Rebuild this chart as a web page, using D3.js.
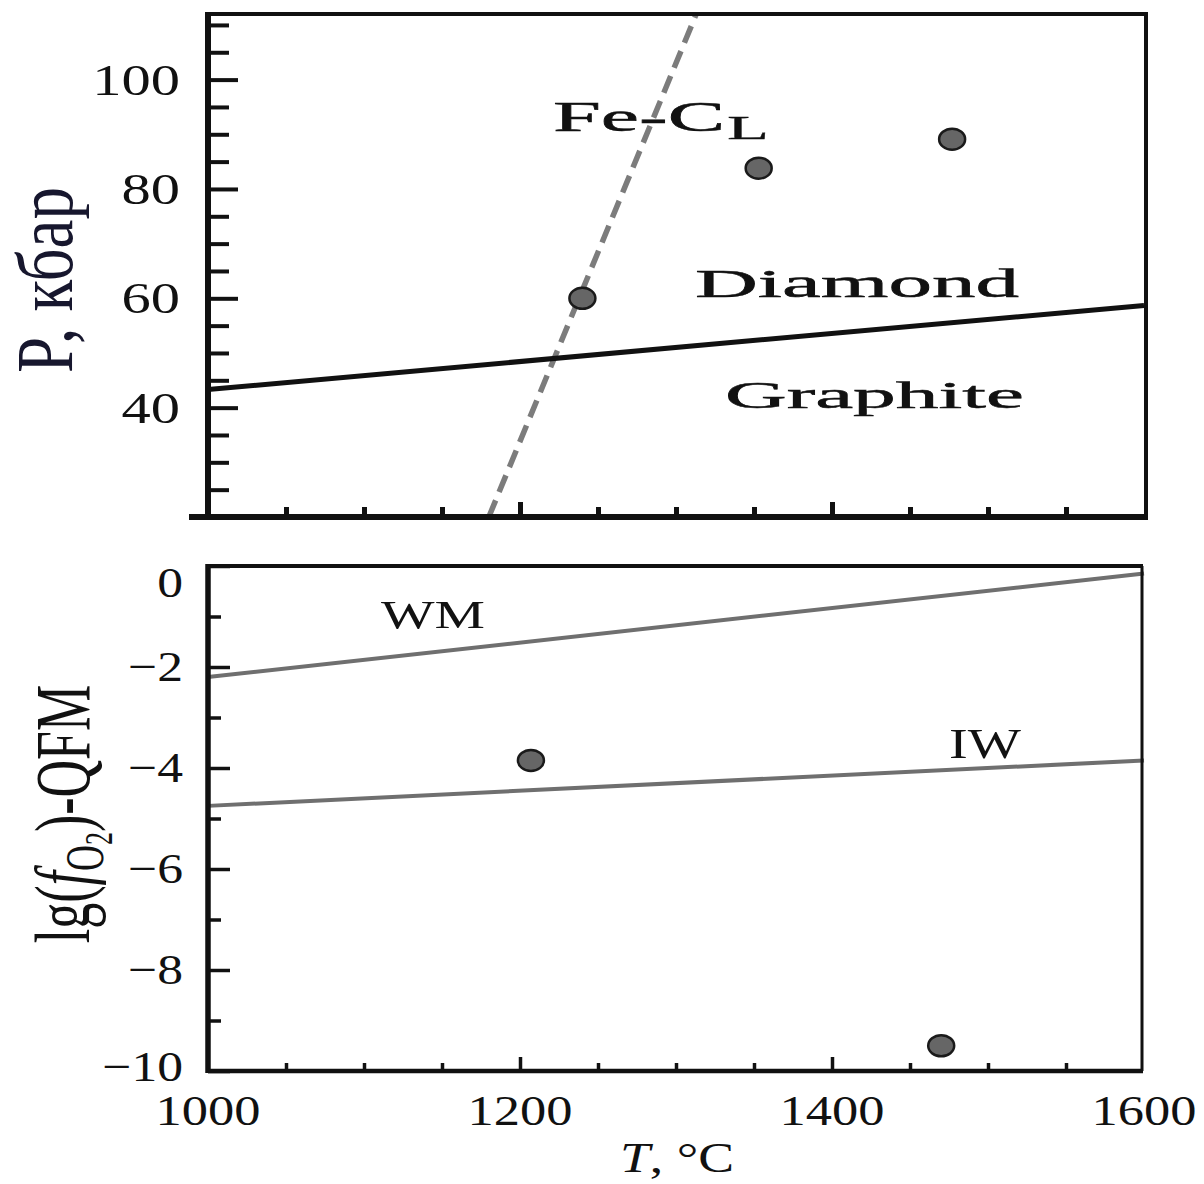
<!DOCTYPE html>
<html>
<head>
<meta charset="utf-8">
<script src="https://cdn.jsdelivr.net/npm/d3@7"></script>
<style>
  html, body { margin: 0; padding: 0; background: #fff; }
  svg { display: block; }
  text { font-family: "Liberation Serif", "Times New Roman", "DejaVu Serif", serif; fill: #111; }
</style>
</head>
<body>
<script>
// ---------------- data ----------------
const tempDomain = [1000, 1600];
const tempMajorTicks = [1000, 1200, 1400, 1600];
const tempMinorTicks = [1050, 1100, 1150, 1250, 1300, 1350, 1450, 1500, 1550];

const pressureDomain = [20, 112];
const pressureMajorTicks = [40, 60, 80, 100];
const pressureMinorTicks = [25, 30, 35, 45, 50, 55, 65, 70, 75, 85, 90, 95, 105, 110];

const fo2Domain = [-10, 0];
const fo2MajorTicks = [0, -2, -4, -6, -8, -10];
const fo2MinorTicks = [-1, -3, -5, -7, -9];

// graphite–diamond boundary
const gdT = [1000, 1600];
const gdP = [43.3, 58.7];
// Fe–C liquidus (dashed)
const feclT = [1180, 1313];
const feclP = [20, 112];
// experiments, P–T
const expT = [1240, 1353, 1477];
const expP = [60.0, 83.8, 89.1];

// buffers
const wmT = [1000, 1600];
const wmF = [-2.2, -0.15];
const iwT = [1000, 1600];
const iwF = [-4.75, -3.85];
// experiments, fO2–T
const expFT = [1207, 1470];
const expF = [-3.85, -9.5];

// ---------------- layout ----------------
const W = 1204, H = 1184;
const svg = d3.select("body").append("svg").attr("width", W).attr("height", H);
svg.append("rect").attr("width", W).attr("height", H).attr("fill", "#fff");

const x = d3.scaleLinear().domain(tempDomain).range([208, 1144]);
const yP = d3.scaleLinear().domain(pressureDomain).range([517, 14]);
const yF = d3.scaleLinear().domain(fo2Domain).range([1071, 566]);

const INK = "#111";
const GREY = "#6f6f6f";

function stext(g, px, py, str, o) {
  o = o || {};
  const t = g.append("text")
    .attr("transform", `translate(${px},${py}) scale(${o.sx || 1},1)` + (o.rot ? ` rotate(${o.rot})` : ""))
    .attr("text-anchor", o.anchor || "start")
    .style("font-size", (o.size || 40) + "px")
    .style("font-weight", o.weight || "normal")
    .style("font-style", o.style || "normal");
  if (o.fill) t.style("fill", o.fill);
  if (o.stroke) t.style("stroke", o.fill || INK).style("stroke-width", o.stroke);
  if (o.len) t.attr("textLength", o.len).attr("lengthAdjust", "spacingAndGlyphs");
  t.text(str);
  return t;
}

// ---------------- top panel ----------------
const gTop = svg.append("g");

const line = (xs, ys, ysc) => d3.line()(xs.map((v, i) => [x(v), ysc(ys[i])]));
gTop.append("path").attr("d", line(feclT, feclP, yP))
  .attr("stroke", "#7c7c7c").attr("stroke-width", 5.5).attr("fill", "none")
  .attr("stroke-dasharray", "18,9");
gTop.append("path").attr("d", line(gdT, gdP, yP))
  .attr("stroke", INK).attr("stroke-width", 5).attr("fill", "none");

gTop.append("g").attr("transform", `translate(${x(tempDomain[0])},0)`)
  .call(d3.axisLeft(yP).tickValues(pressureMajorTicks).tickSize(-30).tickFormat(""))
  .call(g => g.select(".domain").remove())
  .call(g => g.selectAll("line").attr("stroke", INK).attr("stroke-width", 4));
gTop.append("g").attr("transform", `translate(${x(tempDomain[0])},0)`)
  .call(d3.axisLeft(yP).tickValues(pressureMinorTicks).tickSize(-21).tickFormat(""))
  .call(g => g.select(".domain").remove())
  .call(g => g.selectAll("line").attr("stroke", INK).attr("stroke-width", 4));
gTop.append("g").attr("transform", `translate(0,${yP(pressureDomain[0])})`)
  .call(d3.axisBottom(x).tickValues(tempMajorTicks.slice(1, 3)).tickSize(-15).tickFormat(""))
  .call(g => g.select(".domain").remove())
  .call(g => g.selectAll("line").attr("stroke", INK).attr("stroke-width", 5));
gTop.append("g").attr("transform", `translate(0,${yP(pressureDomain[0])})`)
  .call(d3.axisBottom(x).tickValues(tempMinorTicks).tickSize(-10).tickFormat(""))
  .call(g => g.select(".domain").remove())
  .call(g => g.selectAll("line").attr("stroke", INK).attr("stroke-width", 5));

const tx0 = x(tempDomain[0]), tx1 = x(tempDomain[1]) + 2;
gTop.append("line").attr("x1", tx0).attr("x2", tx1 + 2).attr("y1", yP(pressureDomain[1])).attr("y2", yP(pressureDomain[1]))
  .attr("stroke", INK).attr("stroke-width", 4);
gTop.append("line").attr("x1", tx1).attr("x2", tx1).attr("y1", yP(pressureDomain[1])).attr("y2", yP(pressureDomain[0]))
  .attr("stroke", INK).attr("stroke-width", 4);
gTop.append("line").attr("x1", tx0).attr("x2", tx0).attr("y1", yP(pressureDomain[1]) - 2).attr("y2", yP(pressureDomain[0]))
  .attr("stroke", INK).attr("stroke-width", 6);
gTop.append("line").attr("x1", tx0 - 19).attr("x2", tx1 + 2).attr("y1", yP(pressureDomain[0])).attr("y2", yP(pressureDomain[0]))
  .attr("stroke", INK).attr("stroke-width", 6);

gTop.selectAll("ellipse.p").data(expT).join("ellipse")
  .attr("cx", d => x(d)).attr("cy", (d, i) => yP(expP[i]))
  .attr("rx", 13).attr("ry", 10.5)
  .attr("fill", "#666").attr("stroke", "#1a1a1a").attr("stroke-width", 2.5);

pressureMajorTicks.forEach(v => stext(gTop, 180, yP(v) + 15, String(v), { size: 45, sx: 1.3, anchor: "end" }));

stext(gTop, 553, 131, "Fe-C", { size: 42, len: 172, stroke: 0.5 });
stext(gTop, 727, 139, "L", { size: 34, len: 42, stroke: 0.3 });
stext(gTop, 695, 297, "Diamond", { size: 39, len: 324, stroke: 0.5 });
stext(gTop, 725, 408, "Graphite", { size: 38, len: 299, stroke: 0.5 });

stext(gTop, 72, 280, "P, кбар", { size: 58, sx: 1.38, rot: -90, anchor: "middle", fill: "#17172e", len: 186 });

// ---------------- bottom panel ----------------
const gBot = svg.append("g");

gBot.append("path").attr("d", line(wmT, wmF, yF))
  .attr("stroke", GREY).attr("stroke-width", 4).attr("fill", "none");
gBot.append("path").attr("d", line(iwT, iwF, yF))
  .attr("stroke", GREY).attr("stroke-width", 4).attr("fill", "none");

gBot.append("g").attr("transform", `translate(${x(tempDomain[0])},0)`)
  .call(d3.axisLeft(yF).tickValues(fo2MajorTicks).tickSize(-22).tickFormat(""))
  .call(g => g.select(".domain").remove())
  .call(g => g.selectAll("line").attr("stroke", INK).attr("stroke-width", 3.5));
gBot.append("g").attr("transform", `translate(${x(tempDomain[0])},0)`)
  .call(d3.axisLeft(yF).tickValues(fo2MinorTicks).tickSize(-13).tickFormat(""))
  .call(g => g.select(".domain").remove())
  .call(g => g.selectAll("line").attr("stroke", INK).attr("stroke-width", 3.5));
gBot.append("g").attr("transform", `translate(0,${yF(fo2Domain[0])})`)
  .call(d3.axisBottom(x).tickValues(tempMajorTicks.slice(1, 3)).tickSize(-14).tickFormat(""))
  .call(g => g.select(".domain").remove())
  .call(g => g.selectAll("line").attr("stroke", INK).attr("stroke-width", 3.5));
gBot.append("g").attr("transform", `translate(0,${yF(fo2Domain[0])})`)
  .call(d3.axisBottom(x).tickValues(tempMinorTicks).tickSize(-8).tickFormat(""))
  .call(g => g.select(".domain").remove())
  .call(g => g.selectAll("line").attr("stroke", INK).attr("stroke-width", 3.5));

const bx0 = x(tempDomain[0]), bx1 = x(tempDomain[1]) - 2;
gBot.append("line").attr("x1", bx0).attr("x2", bx1 + 1).attr("y1", yF(fo2Domain[1])).attr("y2", yF(fo2Domain[1]))
  .attr("stroke", INK).attr("stroke-width", 4);
gBot.append("line").attr("x1", bx1).attr("x2", bx1).attr("y1", yF(fo2Domain[1])).attr("y2", yF(fo2Domain[0]))
  .attr("stroke", INK).attr("stroke-width", 3);
gBot.append("line").attr("x1", bx0).attr("x2", bx0).attr("y1", yF(fo2Domain[1]) - 2).attr("y2", yF(fo2Domain[0]) + 2)
  .attr("stroke", INK).attr("stroke-width", 5.5);
gBot.append("line").attr("x1", bx0).attr("x2", bx1 + 1).attr("y1", yF(fo2Domain[0])).attr("y2", yF(fo2Domain[0]))
  .attr("stroke", INK).attr("stroke-width", 4.5);

gBot.selectAll("ellipse.q").data(expFT).join("ellipse")
  .attr("cx", d => x(d)).attr("cy", (d, i) => yF(expF[i]))
  .attr("rx", 13).attr("ry", 10.5)
  .attr("fill", "#666").attr("stroke", "#1a1a1a").attr("stroke-width", 2.5);

fo2MajorTicks.forEach(v => {
  const lbl = v === 0 ? "0" : "\u2212" + Math.abs(v);
  const dy = v === 0 ? 31 : (v === -10 ? 10 : 14);
  stext(gBot, 183, yF(v) + dy, lbl, { size: 43, sx: 1.2, anchor: "end" });
});
tempMajorTicks.forEach(v => stext(gBot, x(v), 1125, String(v), { size: 43, sx: 1.22, anchor: "middle" }));

stext(gBot, 381, 628, "WM", { size: 41, len: 104 });
stext(gBot, 949, 758, "IW", { size: 42, len: 72 });

const xt = stext(gBot, 677, 1172, "", { size: 42, sx: 1.28, anchor: "middle" });
xt.append("tspan").style("font-style", "italic").text("T");
xt.append("tspan").text(", °C");

const yt = gBot.append("text")
  .attr("transform", `translate(89,814) scale(1.5,1) rotate(-90)`)
  .attr("text-anchor", "middle")
  .style("font-size", "52px");
yt.append("tspan").text("lg(");
yt.append("tspan").style("font-style", "italic").text("f");
yt.append("tspan").attr("dy", 9).style("font-size", "36px").text("O");
yt.append("tspan").attr("dy", 6).style("font-size", "26px").text("2");
yt.append("tspan").attr("dy", -15).text(")-QFM");
</script>
</body>
</html>
